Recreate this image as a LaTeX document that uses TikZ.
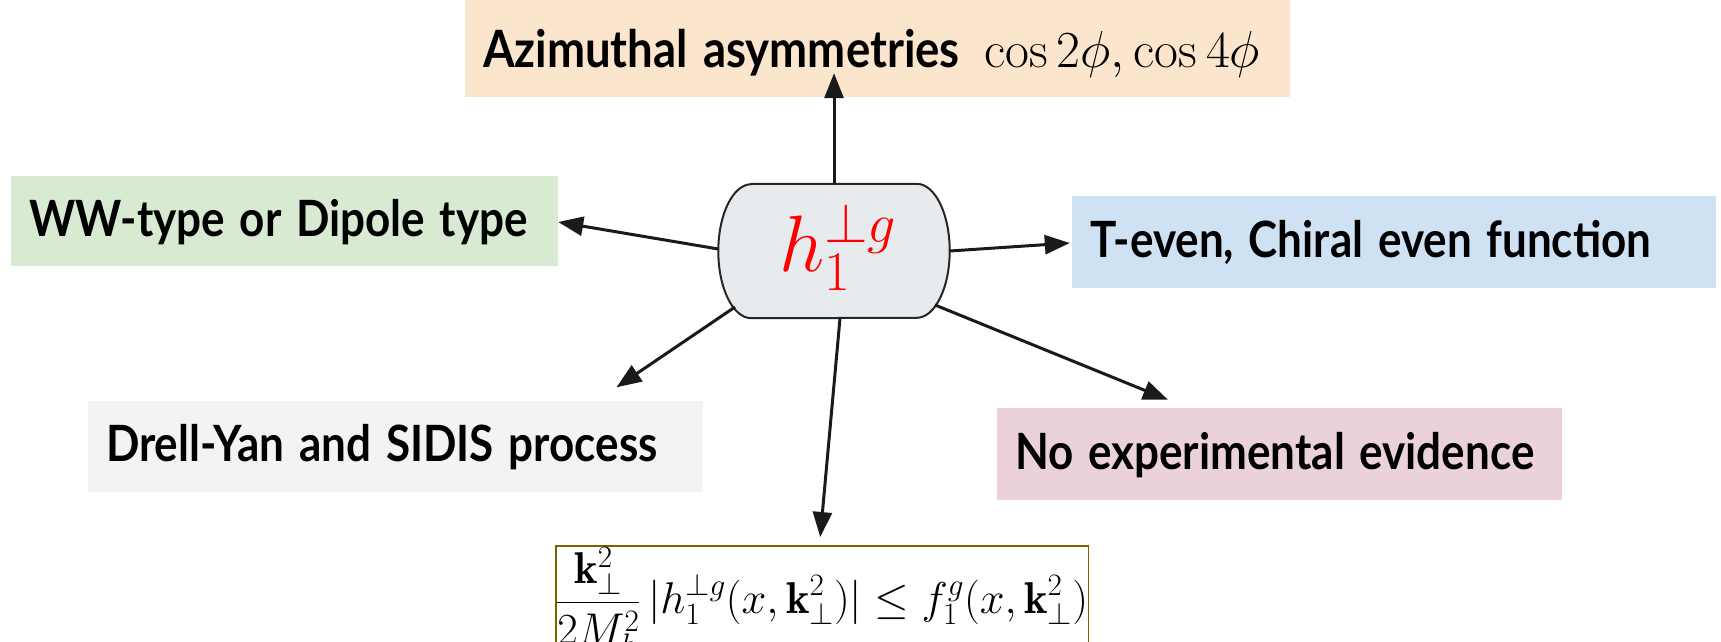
\RequirePackage{fix-cm}
\documentclass[tikz,border=0pt]{standalone}
\usepackage{fontspec}
\usepackage{graphicx}
\newfontfamily\lato{Lato}
\newcommand{\sqz}[1]{\raisebox{-15.5pt}[0pt][0pt]{\scalebox{0.88}[1]{#1}}}
\usetikzlibrary{arrows.meta}
\definecolor{cpeach}{HTML}{FCE5CD}
\definecolor{cgreen}{HTML}{D9EAD3}
\definecolor{cblue}{HTML}{CFE2F3}
\definecolor{cgray}{HTML}{F3F3F3}
\definecolor{cpink}{HTML}{EAD1DC}
\definecolor{ccenter}{HTML}{E8EBED}
\definecolor{cbrown}{HTML}{7F6000}
\definecolor{cline}{HTML}{1A1A1A}
\begin{document}
\begin{tikzpicture}[x=1pt,y=-1pt,
  infobox/.style={rectangle, inner xsep=18pt, inner ysep=0pt, align=left,
    font=\lato\bfseries\fontsize{50}{60}\selectfont},
  arr/.style={draw=cline, line width=3pt, -{Triangle[length=25pt,width=19pt]}},
  cshape/.style={draw=black!85, line width=2pt, fill=ccenter}]
\useasboundingbox (0,0) rectangle (1721,641);
% boxes
\node[infobox, fill=cpeach, minimum width=825pt, minimum height=97pt, text width=789pt] (top) at (877.5,48.5)
  {\raisebox{-19pt}[0pt][0pt]{\scalebox{0.91}[1.03]{Azimuthal asymmetries}\ \,{\fontsize{52}{60}\selectfont$\cos 2\phi, \cos 4\phi$}}};
\node[infobox, fill=cgreen, minimum width=547pt, minimum height=90pt, text width=511pt] (g) at (284.5,221)
  {\sqz{WW-type or Dipole type}};
\node[infobox, fill=cblue, minimum width=644pt, minimum height=92pt, text width=608pt] (b) at (1394,242)
  {\sqz{T-even, Chiral even function}};
\node[infobox, fill=cgray, minimum width=615pt, minimum height=91pt, text width=579pt] (dy) at (395.5,446)
  {\sqz{Drell-Yan and SIDIS process}};
\node[infobox, fill=cpink, minimum width=565pt, minimum height=92pt, text width=529pt] (p) at (1279.5,454)
  {\sqz{No experimental evidence}};
% formula
\node[draw=cbrown, line width=1.5pt, fill=white, anchor=north west, inner xsep=0.5pt, inner ysep=1.5pt] (f) at (555,545)
  {\fontsize{44.5}{54}\selectfont$\displaystyle \frac{\mathbf{k}_\perp^2}{2M_h^2}\,|h_1^{\perp g}(x,\mathbf{k}_\perp^2)| \le f_1^g(x,\mathbf{k}_\perp^2)$};
% center
\node[rectangle, minimum width=231pt, minimum height=134pt, inner sep=0pt] (c) at (834,251) {};
\draw[cshape] ([xshift=33pt]c.north west) -- ([xshift=-33pt]c.north east)
  arc[start angle=90, end angle=-90, x radius=33pt, y radius=67pt]
  -- ([xshift=33pt]c.south west)
  arc[start angle=270, end angle=90, x radius=33pt, y radius=67pt] -- cycle;
\node[text=red, inner sep=0pt, font=\fontsize{80}{90}\selectfont] (ct) at ([shift={(4,-4)}]c.center) {$h_1^{\perp g}$};
% arrows
\draw[arr] (c.north) -- ([shift={(-43.5,-24)}]top.south);
\draw[arr] ([shift={(0,-2)}]c.west) -- ([shift={(0,1)}]g.east);
\draw[arr] (c.east) -- ([shift={(-2,1)}]b.west);
\draw[arr] ([shift={(-99,56)}]c.center) -- ([shift={(221,-13)}]dy.north);
\draw[arr] ([shift={(6,0)}]c.south) -- ([shift={(-2,-8)}]f.north);
\draw[arr] ([shift={(101,54)}]c.center) -- ([shift={(-111.5,-8)}]p.north);
\end{tikzpicture}
\end{document}
